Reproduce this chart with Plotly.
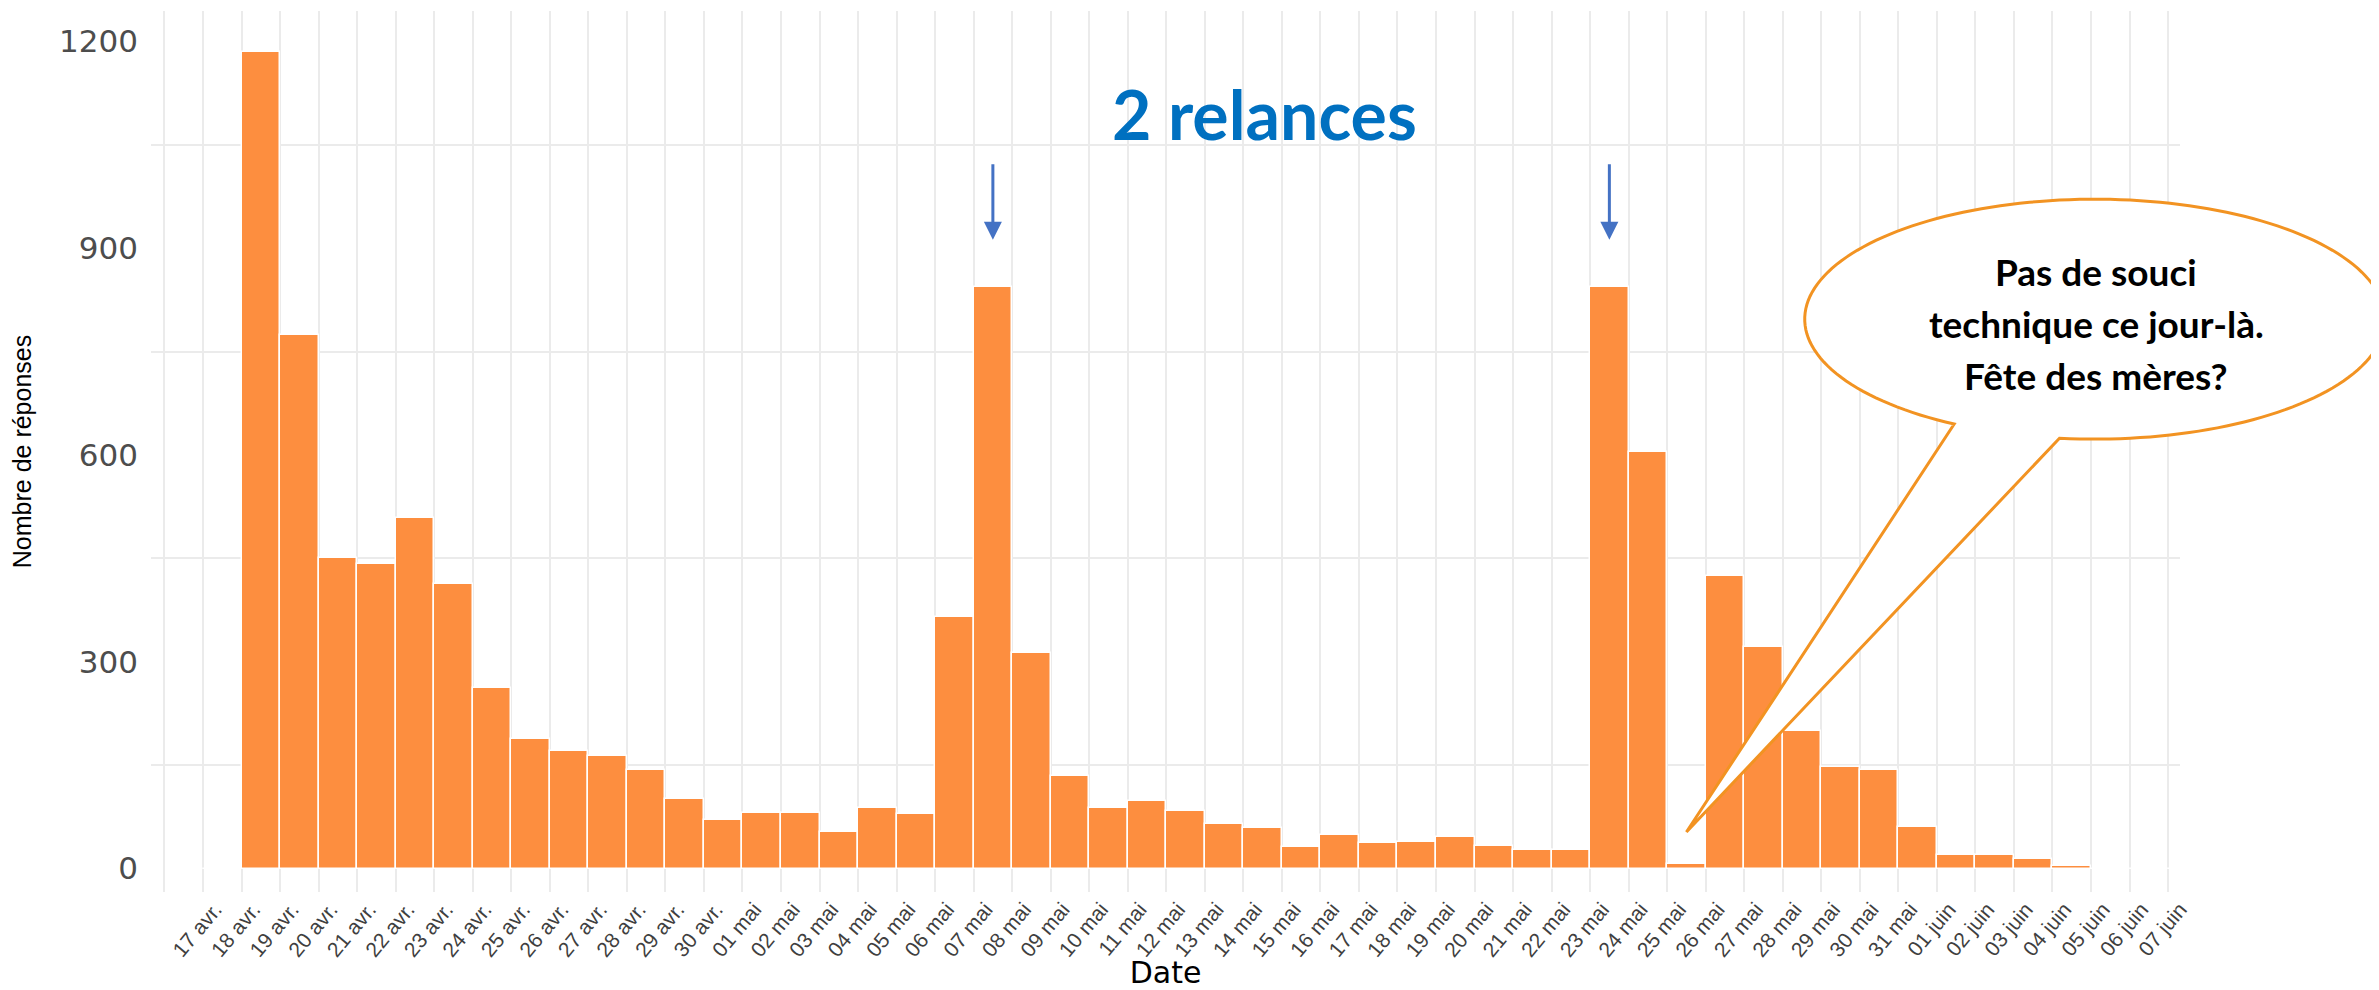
import math
import plotly.graph_objects as go

# ---------------- data ----------------
labels = (
    ["17 avr.", "18 avr.", "19 avr.", "20 avr.", "21 avr.", "22 avr.", "23 avr.",
     "24 avr.", "25 avr.", "26 avr.", "27 avr.", "28 avr.", "29 avr.", "30 avr."]
    + ["01 mai", "02 mai", "03 mai", "04 mai", "05 mai", "06 mai", "07 mai",
       "08 mai", "09 mai", "10 mai", "11 mai", "12 mai", "13 mai", "14 mai",
       "15 mai", "16 mai", "17 mai", "18 mai", "19 mai", "20 mai", "21 mai",
       "22 mai", "23 mai", "24 mai", "25 mai", "26 mai", "27 mai", "28 mai",
       "29 mai", "30 mai", "31 mai"]
    + ["01 juin", "02 juin", "03 juin", "04 juin", "05 juin", "06 juin", "07 juin"]
)
counts = [
    0, 1184, 774, 451, 442, 509, 413, 262, 188, 170, 163, 143, 101, 71,
    80, 80, 53, 88, 79, 365, 843, 313, 134, 88, 98, 83, 65, 59,
    32, 49, 37, 38, 46, 33, 27, 27, 843, 605, 6, 424, 321, 199,
    147, 143, 61,
    20, 20, 14, 4, 0, 0, 0,
]
y_ticks = [0, 300, 600, 900, 1200]
y_minor = [150, 450, 750, 1050]
relance_days = ["07 mai", "23 mai"]
callout_day = "25 mai"

# ---------------- layout constants ----------------
# the page body has an 8px margin, so the figure is 8px smaller than the window
W, H = 2371, 982
ML, MR, MT, MB = 143, 199, 3, 98
XR = [-1.35, 51.31]
YR = [-34, 1244]
BAR = "#FD8E3F"
GRID = "#EBEBEB"
ORANGE = "#F29322"
BLUE_TXT = "#0070C0"
BLUE_ARR = "#4472C4"


def to_paper(x, y):
    return (x - XR[0]) / (XR[1] - XR[0]), (y - YR[0]) / (YR[1] - YR[0])


fig = go.Figure()
fig.add_trace(go.Bar(
    x=[i + 0.5 for i in range(len(labels))],
    y=counts,
    width=1.0,
    marker=dict(color=BAR, line=dict(color="white", width=1.5)),
    hovertext=labels,
    showlegend=False,
))

# arrows for the two reminders
for d in relance_days:
    i = labels.index(d) + 0.5
    fig.add_annotation(
        x=i, y=912, ax=i, ay=1024, xref="x", yref="y", axref="x", ayref="y",
        text="", showarrow=True, arrowhead=2, arrowsize=1.2, arrowwidth=3,
        arrowcolor=BLUE_ARR, standoff=0,
    )

fig.add_annotation(
    x=27.55, y=1057, xref="x", yref="y", yanchor="bottom", xanchor="center",
    text="<b>2 relances</b>", showarrow=False,
    font=dict(family="Lato", size=68, color=BLUE_TXT),
    yshift=-16,
)

# speech bubble (ellipse + tail), in data units converted to paper
cx, cv = 49.10, 797
rx, rv = 7.53, 174
tip_x = labels.index(callout_day) + 0.5
tip_v = counts[labels.index(callout_day)] + 47
pts = []
t = 119
while t <= 457:
    a = math.radians(t)
    pts.append(to_paper(cx + rx * math.cos(a), cv - rv * math.sin(a)))
    t += 2
tp = to_paper(tip_x, tip_v)
path = "M" + " L".join(f"{px:.5f},{py:.5f}" for px, py in pts) + f" L{tp[0]:.5f},{tp[1]:.5f} Z"
fig.add_shape(type="path", path=path, xref="paper", yref="paper",
              fillcolor="white", line=dict(color=ORANGE, width=3), layer="above")

bubble_lines = ["Pas de souci", "technique ce jour-là.", "Fête des mères?"]
for k, line in enumerate(bubble_lines):
    fig.add_annotation(
        x=49.13, y=790, xref="x", yref="y", showarrow=False, align="center",
        yshift=(1 - k) * 52,
        text=f"<b>{line}</b>",
        font=dict(family="Lato", size=37, color="black"),
    )

fig.update_layout(
    width=W, height=H,
    margin=dict(l=ML, r=MR, t=MT, b=MB, autoexpand=False),
    paper_bgcolor="white", plot_bgcolor="white",
    bargap=0,
    font=dict(family="Liberation Sans"),
)
fig.update_xaxes(
    automargin=False,
    range=XR, tickmode="array",
    tickvals=list(range(-1, len(labels))),
    ticktext=[""] + labels,
    tickangle=-50, showgrid=True, gridcolor=GRID, gridwidth=1.5,
    zeroline=False, showline=False, ticks="",
    ticklabelstandoff=0, ticklabelshift=12,
    tickfont=dict(family="Liberation Sans", size=21, color="#3F3F3F"),
    title=dict(text="Date", font=dict(family="DejaVu Sans", size=30, color="black"), standoff=25),
)
fig.update_yaxes(
    automargin=False,
    range=YR, tickmode="array", tickvals=y_ticks,
    ticktext=[str(v) for v in y_ticks],
    showgrid=False, zeroline=False, showline=False, ticks="",
    ticklabelstandoff=12,
    tickfont=dict(family="DejaVu Sans", size=31, color="#4D4D4D"),
    minor=dict(tickmode="array", tickvals=y_minor, showgrid=True, gridcolor=GRID, gridwidth=1.5, ticks=""),
    title=dict(text="Nombre de réponses", font=dict(family="Liberation Sans", size=25, color="black"), standoff=20),
)

fig.write_html("out.html")
